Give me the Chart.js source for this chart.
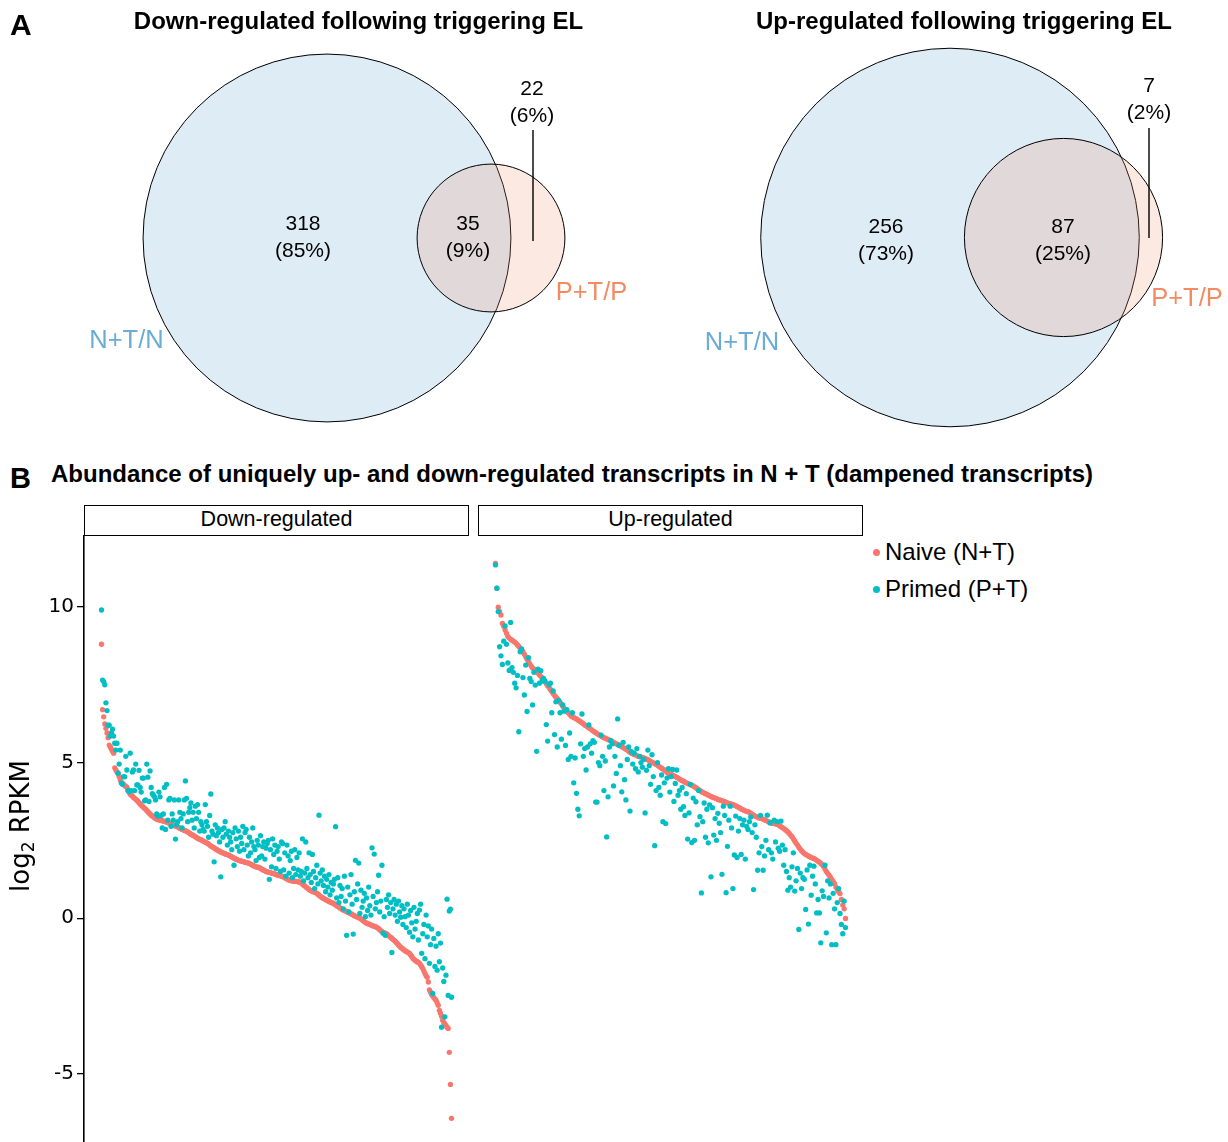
<!DOCTYPE html>
<html><head><meta charset="utf-8">
<script src="https://cdn.jsdelivr.net/npm/chart.js@4.4.0/dist/chart.umd.min.js"></script>
<style>
html,body{margin:0;padding:0;background:#fff;}
body{width:1228px;height:1142px;position:relative;overflow:hidden;font-family:"Liberation Sans",Arial,sans-serif;color:#000;}
.abs{position:absolute;white-space:nowrap;line-height:1;}
canvas{position:absolute;}
.strip{position:absolute;box-sizing:border-box;border:1.6px solid #000;background:#fff;font-size:21.5px;text-align:center;line-height:27px;white-space:nowrap;}
</style></head><body>
<canvas id="venn" width="1228" height="440" style="left:0;top:0"></canvas>
<canvas id="down" width="469" height="607" style="left:0;top:535px"></canvas>
<canvas id="up" width="385" height="607" style="left:478px;top:535px"></canvas>
<div id="txt"></div>
<script>
// ---------------- data ----------------
const vennTitles = ['Down-regulated following triggering EL', 'Up-regulated following triggering EL'];
const vennSetNames = ['N+T/N', 'P+T/P'];
// [N only, both, P only]
const downVennCounts = [318, 35, 22];
const downVennPct = ['85%', '9%', '6%'];
const upVennCounts = [256, 87, 7];
const upVennPct = ['73%', '25%', '2%'];

const panelBTitle = 'Abundance of uniquely up- and down-regulated transcripts in N + T (dampened transcripts)';
const facetNames = ['Down-regulated', 'Up-regulated'];
const seriesNames = ['Naive (N+T)', 'Primed (P+T)'];
const yTicks = [-5, 0, 5, 10];

const downNaive = [
8.8,6.7,6.47,6.24,6.1,5.95,5.8,5.56,5.5,5.43,
5.36,5.3,4.83,4.76,4.7,4.66,4.55,4.45,4.37,4.33,
4.3,4.26,4.23,4.2,4.12,4.05,3.98,3.95,3.92,3.88,
3.85,3.82,3.79,3.75,3.71,3.67,3.63,3.6,3.56,3.53,
3.5,3.46,3.42,3.38,3.35,3.31,3.29,3.26,3.23,3.2,
3.18,3.17,3.16,3.15,3.14,3.13,3.12,3.11,3.1,3.09,
3.07,3.06,3.04,3.02,3.0,2.99,2.97,2.96,2.95,2.93,
2.91,2.89,2.87,2.85,2.84,2.82,2.81,2.79,2.77,2.75,
2.72,2.7,2.68,2.66,2.64,2.62,2.59,2.57,2.55,2.53,
2.52,2.5,2.48,2.46,2.44,2.42,2.41,2.38,2.35,2.32,
2.3,2.28,2.26,2.23,2.21,2.19,2.17,2.15,2.13,2.11,
2.1,2.08,2.07,2.05,2.04,2.03,2.01,1.99,1.97,1.95,
1.93,1.91,1.9,1.88,1.86,1.85,1.84,1.83,1.82,1.81,
1.8,1.79,1.78,1.77,1.76,1.74,1.72,1.7,1.68,1.66,
1.65,1.64,1.64,1.62,1.6,1.58,1.56,1.54,1.52,1.5,
1.49,1.48,1.47,1.46,1.45,1.44,1.43,1.42,1.4,1.39,
1.38,1.37,1.36,1.35,1.34,1.32,1.3,1.28,1.26,1.24,
1.22,1.21,1.2,1.2,1.19,1.19,1.18,1.18,1.17,1.16,
1.16,1.13,1.1,1.07,1.04,1.01,0.98,0.95,0.92,0.9,
0.88,0.86,0.85,0.83,0.82,0.8,0.77,0.74,0.71,0.68,
0.66,0.64,0.62,0.6,0.58,0.56,0.54,0.52,0.5,0.49,
0.48,0.45,0.43,0.4,0.38,0.36,0.33,0.31,0.28,0.26,
0.25,0.23,0.21,0.2,0.18,0.16,0.14,0.12,0.1,0.08,
0.06,0.05,0.03,0.02,0.0,-0.02,-0.05,-0.08,-0.11,-0.14,
-0.16,-0.17,-0.19,-0.2,-0.22,-0.23,-0.25,-0.26,-0.27,-0.29,
-0.31,-0.34,-0.37,-0.4,-0.43,-0.46,-0.47,-0.48,-0.5,-0.53,
-0.56,-0.59,-0.62,-0.65,-0.68,-0.71,-0.74,-0.78,-0.82,-0.86,
-0.9,-0.93,-0.96,-0.99,-1.02,-1.05,-1.07,-1.09,-1.11,-1.13,
-1.18,-1.23,-1.29,-1.32,-1.35,-1.38,-1.4,-1.42,-1.45,-1.5,
-1.56,-1.62,-1.7,-1.78,-1.85,-1.9,-2.05,-2.3,-2.38,-2.45,
-2.5,-2.55,-2.6,-2.64,-2.72,-2.8,-2.96,-3.05,-3.15,-3.28,
-3.35,-3.4,-3.45,-3.5,-3.54,-4.31,-5.34,-6.43
];
const downPrimed = [
9.9,7.65,7.6,7.5,6.92,6.67,6.2,6.2,5.85,5.95,
6.07,5.85,5.62,5.4,5.62,4.66,4.95,5.4,4.34,4.3,
4.55,4.54,5.2,4.76,4.1,4.06,5.3,4.1,4.7,4.76,
4.1,4.95,4.28,4.28,4.75,4.2,4.05,4.5,4.5,3.77,
3.8,4.95,4.53,3.75,4.73,4.2,4.0,3.95,3.9,3.8,
3.35,3.28,4.05,3.9,3.3,2.9,3.35,4.2,2.85,4.3,
3.15,3.8,3.85,2.95,3.35,3.15,3.8,2.54,3.0,3.1,
3.8,3.4,3.2,2.9,3.35,3.8,4.41,3.85,3.1,3.4,
3.55,3.7,3.15,3.4,2.9,3.6,3.2,3.65,3.4,2.8,
3.1,3.0,2.85,2.8,3.65,3.1,2.95,2.6,3.3,3.99,
2.8,2.7,1.81,3.0,2.65,2.9,2.75,2.45,1.33,2.85,
2.6,2.9,3.1,2.7,2.35,2.8,2.6,2.45,2.2,2.75,
1.7,2.9,2.55,2.3,2.8,2.15,2.6,2.4,2.95,2.2,
2.75,2.85,2.35,2.0,2.6,2.1,2.45,2.9,2.3,2.2,
1.85,2.5,2.35,1.95,2.65,2.0,2.3,2.45,1.9,2.25,
2.4,2.5,1.25,2.2,1.65,2.55,2.05,2.35,1.6,2.15,
2.3,1.9,1.5,2.45,2.4,1.55,2.1,1.35,2.35,2.0,
1.45,1.85,2.15,1.3,1.6,2.2,1.4,1.95,1.55,2.1,
1.35,1.5,2.55,1.2,1.45,2.45,1.6,1.3,2.1,1.4,
1.15,2.05,1.5,0.95,1.3,1.7,1.1,3.31,1.45,1.2,
1.55,1.05,1.35,0.85,1.25,1.0,1.4,0.75,1.15,0.9,
1.1,1.25,2.94,0.65,1.3,0.5,1.05,0.7,0.95,0.3,
1.35,0.55,-0.55,1.0,0.2,0.75,1.4,0.45,-0.51,0.85,
1.86,0.6,1.1,1.77,0.15,0.9,0.35,0.55,0.8,0.05,
0.65,0.25,1.0,0.4,0.1,2.26,0.7,2.06,0.3,0.5,
0.85,1.38,0.2,0.55,1.7,-0.48,0.05,-0.55,0.6,0.35,
0.75,0.15,0.5,-1.1,0.3,0.6,0.1,0.45,-0.1,0.55,
0.2,0.03,0.4,-0.2,0.3,0.05,-0.3,0.45,0.1,-0.45,
0.25,-0.15,-0.6,0.35,-0.35,-0.1,0.15,-0.7,0.26,0.45,
-1.13,-0.5,-0.2,-1.3,0.1,-0.6,-0.25,-1.45,-0.85,-0.35,
-2.42,-0.65,-1.55,-0.9,-1.67,-0.5,-1.4,-0.8,-3.5,-1.6,
-2.03,-3.17,-1.83,0.61,-2.48,0.23,0.29,-2.54
];
const upNaive = [
11.4,10.6,9.99,9.85,9.74,9.47,9.38,9.26,9.15,9.05,
9.0,8.96,8.93,8.9,8.87,8.83,8.78,8.73,8.67,8.62,
8.56,8.48,8.4,8.32,8.24,8.17,8.1,8.04,8.0,7.96,
7.92,7.88,7.82,7.77,7.71,7.66,7.6,7.53,7.47,7.41,
7.35,7.28,7.22,7.16,7.1,7.05,7.0,6.94,6.88,6.81,
6.74,6.69,6.64,6.6,6.55,6.5,6.47,6.45,6.42,6.4,
6.37,6.34,6.31,6.28,6.25,6.21,6.18,6.15,6.12,6.09,
6.05,6.02,5.99,5.96,5.93,5.9,5.88,5.85,5.82,5.8,
5.78,5.76,5.74,5.72,5.7,5.68,5.65,5.62,5.6,5.58,
5.56,5.54,5.51,5.48,5.46,5.43,5.4,5.36,5.33,5.3,
5.28,5.26,5.24,5.22,5.2,5.19,5.18,5.16,5.15,5.13,
5.11,5.09,5.06,5.04,5.01,4.99,4.97,4.94,4.91,4.88,
4.85,4.82,4.79,4.76,4.73,4.69,4.65,4.63,4.62,4.6,
4.57,4.55,4.53,4.5,4.47,4.44,4.42,4.4,4.37,4.35,
4.33,4.31,4.29,4.27,4.25,4.22,4.19,4.16,4.13,4.1,
4.07,4.04,4.02,4.0,3.98,3.95,3.93,3.91,3.89,3.87,
3.86,3.84,3.82,3.8,3.79,3.77,3.76,3.74,3.72,3.7,
3.69,3.67,3.66,3.65,3.63,3.61,3.59,3.56,3.54,3.51,
3.49,3.47,3.45,3.43,3.42,3.4,3.37,3.34,3.31,3.28,
3.26,3.24,3.22,3.21,3.2,3.18,3.16,3.14,3.12,3.1,
3.08,3.06,3.05,3.04,3.03,3.02,3.0,2.97,2.94,2.91,
2.88,2.85,2.81,2.77,2.72,2.67,2.62,2.55,2.48,2.41,
2.35,2.28,2.22,2.17,2.12,2.08,2.05,2.02,2.0,1.97,
1.95,1.93,1.92,1.89,1.86,1.83,1.8,1.76,1.72,1.66,
1.58,1.5,1.44,1.38,1.32,1.25,1.18,1.11,1.0,0.92,
0.85,0.79,0.6,0.42,0.3,-0.01
];
const upPrimed = [
11.35,10.6,9.85,8.72,8.43,8.15,8.9,9.39,8.8,8.2,
7.96,9.5,8.05,7.9,7.55,7.4,7.8,5.99,8.56,8.65,
7.73,7.17,8.13,6.64,8.37,7.7,7.6,6.85,7.9,7.49,
5.36,8.0,7.55,7.95,7.62,7.7,7.62,6.22,5.69,7.5,
7.55,6.6,7.3,5.9,6.95,5.5,7.0,6.6,5.75,6.85,
6.65,5.55,6.7,5.1,5.95,5.2,6.6,4.35,5.15,4.01,
3.5,3.29,5.6,6.56,5.2,5.45,4.76,5.5,6.21,5.6,
5.3,5.7,5.65,3.73,3.73,5.0,4.9,5.88,5.2,4.1,
5.05,2.61,3.9,5.5,5.7,5.6,4.25,5.2,4.65,6.4,
5.55,4.9,4.06,5.65,4.45,3.8,5.1,5.5,3.44,5.35,
4.95,5.3,4.8,5.45,4.7,5.2,5.0,4.85,5.1,3.38,
4.75,5.4,4.9,4.3,5.25,4.55,2.33,4.1,5.0,4.2,
3.95,4.6,3.1,4.35,3.04,4.5,4.8,4.05,4.55,4.78,
3.75,4.33,4.76,3.95,4.1,3.5,4.2,3.58,3.3,4.0,
2.54,3.38,4.3,2.43,3.86,2.5,3.74,3.0,4.1,3.26,
0.81,3.1,3.7,2.6,3.5,2.42,3.64,1.33,3.55,2.67,
3.2,2.5,3.37,3.05,2.75,1.41,3.6,3.3,0.82,2.31,
3.15,3.6,2.9,0.95,2.03,3.28,1.95,2.8,3.2,2.05,
3.0,3.15,1.9,2.95,2.85,3.1,3.25,2.75,0.92,3.0,
2.6,1.54,2.1,3.3,2.3,1.54,2.0,2.5,3.31,2.2,
3.06,2.1,1.9,3.15,2.45,3.1,2.25,2.15,3.12,2.35,
1.7,2.2,1.5,0.9,1.3,1.0,1.65,2.1,0.87,1.2,
1.6,-0.36,1.45,0.95,1.3,1.25,0.28,1.55,-0.19,1.7,
0.74,1.35,1.67,1.1,0.17,0.6,0.17,-0.79,0.88,0.7,
1.7,-0.47,1.2,0.65,1.1,-0.85,0.8,0.3,-0.85,0.5,
0.95,0.15,-0.2,-0.5,0.55,-0.3
];

// ---------------- layout / style ----------------
const COL_NAIVE = '#F8766D', COL_PRIMED = '#00BFC4';
const COL_BLUE_FILL = '#deecf5', COL_PEACH_FILL = 'rgba(240,145,107,0.2)';
const COL_SET_N = '#6aacd5', COL_SET_P = '#f28b62';
const SANS = '"Liberation Sans", Arial, sans-serif';
const DEJAVU = '"DejaVu Sans", sans-serif';
const Y_MIN = -7.19, Y_MAX = 12.31;
const VL = [
  {cx:[327,491], cy:238, k:9.79, titleX:358.5, lab:[[303,222],[468,222],[532,87]], lead:[533,130,241], setLab:[[126.5,340],[591.5,292]]},
  {cx:[950,1063.5], cy:237.5, k:10.22, titleX:964, lab:[[886,225],[1063,225],[1149,84]], lead:[1149,128,238], setLab:[[742,342],[1187,298]]}
];

Chart.defaults.font.family = SANS;
Chart.defaults.animation = false;

const txt = document.getElementById('txt');
function addText(s, o){
  const d = document.createElement('div');
  d.className = 'abs';
  d.textContent = s;
  Object.assign(d.style, o.style||{});
  if (o.cx!==undefined){ d.style.left=o.cx+'px'; d.style.top=o.cy+'px'; d.style.transform='translate(-50%,-50%)'; }
  else { d.style.left=o.x+'px'; d.style.top=o.y+'px'; }
  txt.appendChild(d); return d;
}

// ---------- Panel A : Venn diagrams ----------
const vennData = [[downVennCounts, downVennPct],[upVennCounts, upVennPct]];
const vennDatasets = [];
vennData.forEach(([cnt,pct],j)=>{
  const L = VL[j];
  const rN = L.k*Math.sqrt(cnt[0]+cnt[1]);
  const rP = L.k*Math.sqrt(cnt[1]+cnt[2]);
  vennDatasets.push({
    type:'bubble', label:vennTitles[j], order:2,
    data:[{x:L.cx[0], y:L.cy, r:rN},{x:L.cx[1], y:L.cy, r:rP}],
    backgroundColor:[COL_BLUE_FILL, COL_PEACH_FILL],
    borderColor:'#000', borderWidth:1, clip:false
  });
  vennDatasets.push({
    type:'line', order:1, data:[{x:L.lead[0],y:L.lead[1]},{x:L.lead[0],y:L.lead[2]}],
    borderColor:'#000', borderWidth:1.4, pointRadius:0, clip:false
  });
  addText(vennTitles[j], {cx:L.titleX, cy:21, style:{fontSize:'24px', fontWeight:'bold'}});
  cnt.forEach((c,i)=>{
    addText(String(c), {cx:L.lab[i][0], cy:L.lab[i][1], style:{fontSize:'21px'}});
    addText('('+pct[i]+')', {cx:L.lab[i][0], cy:L.lab[i][1]+27, style:{fontSize:'21px'}});
  });
  addText(vennSetNames[0], {cx:L.setLab[0][0], cy:L.setLab[0][1], style:{fontSize:'25.5px', color:COL_SET_N}});
  addText(vennSetNames[1], {cx:L.setLab[1][0], cy:L.setLab[1][1], style:{fontSize:'25.5px', color:COL_SET_P}});
});
new Chart(document.getElementById('venn'), {
  type:'bubble',
  data:{datasets:vennDatasets},
  options:{responsive:false, events:[], layout:{padding:0, autoPadding:false},
    plugins:{legend:{display:false}, tooltip:{enabled:false}},
    scales:{x:{type:'linear',min:0,max:1228,display:false}, y:{type:'linear',min:0,max:440,reverse:true,display:false}}}
});

addText('A', {x:10, y:9.6, style:{fontSize:'30px', fontWeight:'bold'}});
addText('B', {x:10, y:464, style:{fontSize:'29px', fontWeight:'bold'}});
addText(panelBTitle, {x:51, y:462, style:{fontSize:'24px', fontWeight:'bold'}});

// ---------- Panel B : faceted scatter ----------
[[84,facetNames[0]],[478,facetNames[1]]].forEach(([l,name])=>{
  const d = document.createElement('div');
  d.className='strip'; d.textContent=name;
  Object.assign(d.style,{left:l+'px', top:'505px', width:'385px', height:'31px'});
  txt.appendChild(d);
});
const yt = document.createElement('div');
yt.className='abs';
yt.innerHTML='log<sub style="font-size:17px;vertical-align:-5px;line-height:0">2</sub> RPKM';
Object.assign(yt.style,{left:'20px', top:'826px', fontFamily:DEJAVU, fontSize:'26px', transform:'translate(-50%,-50%) rotate(-90deg)'});
txt.appendChild(yt);
[[seriesNames[0],COL_NAIVE,552],[seriesNames[1],COL_PRIMED,589]].forEach(([s,c,y])=>{
  const dot=document.createElement('div');
  Object.assign(dot.style,{position:'absolute',left:'872.5px',top:(y-3.5)+'px',width:'7px',height:'7px',borderRadius:'50%',background:c});
  txt.appendChild(dot);
  addText(s,{x:885, y:y-12, style:{fontSize:'24px'}});
});

function facet(canvasId, naive, primed, showY){
  const n = naive.length, ex = 0.05*(n-1);
  const toPts = a => a.map((v,i)=>({x:i+1, y:v}));
  const yScale = {type:'linear', min:Y_MIN, max:Y_MAX, display:showY,
    afterBuildTicks: s=>{ s.ticks = yTicks.map(v=>({value:v})); },
    border:{display:true, color:'#000', width:1.6},
    grid:{display:true, drawOnChartArea:false, drawTicks:true, tickLength:7, color:'#000', lineWidth:1.3},
    ticks:{color:'#000', font:{family:DEJAVU, size:20}, padding:3, autoSkip:false}
  };
  if (showY) yScale.afterFit = s=>{ s.width = 84; s.paddingTop = 0; s.paddingBottom = 0; };
  return new Chart(document.getElementById(canvasId), {
    type:'scatter',
    data:{datasets:[
      {label:seriesNames[1], data:toPts(primed), backgroundColor:COL_PRIMED, pointRadius:2.65, pointBorderWidth:0, order:0},
      {label:seriesNames[0], data:toPts(naive), backgroundColor:COL_NAIVE, pointRadius:2.65, pointBorderWidth:0, order:1}
    ]},
    options:{responsive:false, events:[], layout:{padding:0, autoPadding:false},
      plugins:{legend:{display:false}, tooltip:{enabled:false}},
      scales:{ x:{type:'linear', min:1-ex, max:n+ex, display:false}, y:yScale }
    }
  });
}
facet('down', downNaive, downPrimed, true);
facet('up', upNaive, upPrimed, false);
</script>
</body></html>
